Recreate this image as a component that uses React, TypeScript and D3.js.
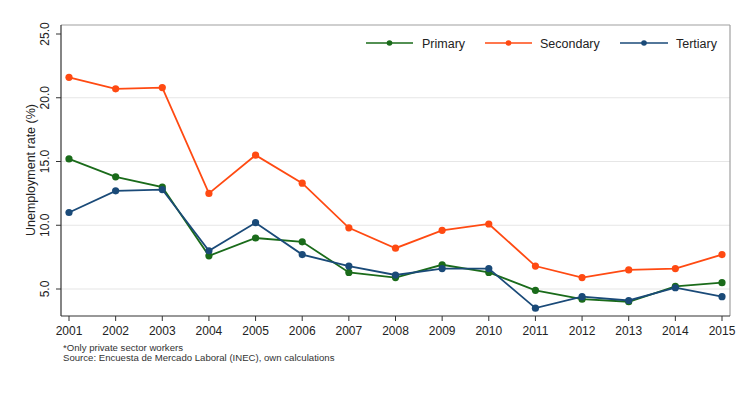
import * as d3 from 'd3';
import React from 'react';

const years = [2001, 2002, 2003, 2004, 2005, 2006, 2007, 2008, 2009, 2010, 2011, 2012, 2013, 2014, 2015];
const primary = [15.2, 13.8, 13.0, 7.6, 9.0, 8.7, 6.3, 5.9, 6.9, 6.3, 4.9, 4.2, 4.0, 5.2, 5.5];
const secondary = [21.6, 20.7, 20.8, 12.5, 15.5, 13.3, 9.8, 8.2, 9.6, 10.1, 6.8, 5.9, 6.5, 6.6, 7.7];
const tertiary = [11.0, 12.7, 12.8, 8.0, 10.2, 7.7, 6.8, 6.1, 6.6, 6.6, 3.5, 4.4, 4.1, 5.1, 4.4];
const yTicks = [5, 10, 15, 20, 25];

const series = [
  { name: 'Primary', values: primary, color: '#1a6b1a' },
  { name: 'Secondary', values: secondary, color: '#ff4a12' },
  { name: 'Tertiary', values: tertiary, color: '#1a4a78' },
];

const font = '"Liberation Sans", Arial, sans-serif';

const App: React.FC = () => {
  const width = 755;
  const height = 400;
  const plot = { left: 61, right: 730, top: 25, bottom: 316 };

  const x = d3.scaleLinear().domain([2001, 2015]).range([69, 722]);
  const y = d3.scaleLinear().domain([5, 25]).range([289, 34]);

  const line = d3.line<number>()
    .x((_, i) => x(years[i]))
    .y(d => y(d));

  const legendItems = [
    { x0: 366, x1: 413, tx: 422 },
    { x0: 485, x1: 532, tx: 540 },
    { x0: 620, x1: 668, tx: 676 },
  ];

  return (
    <svg width={width} height={height} style={{ position: 'absolute', left: 0, top: 0 }} fontFamily={font}>
      <rect width={width} height={height} fill="#fff" />
      {yTicks.map(t => (
        <g key={t}>
          {t < 25 && (
            <line x1={plot.left} x2={plot.right} y1={y(t)} y2={y(t)} stroke="#e6e6e6" strokeWidth={1.2} />
          )}
          <line x1={plot.left - 5} x2={plot.left} y1={y(t)} y2={y(t)} stroke="#333" />
          <text
            transform={`translate(49,${y(t)}) rotate(-90)`}
            textAnchor="middle"
            fontSize={12}
            fill="#222"
          >
            {d3.format('.1f')(t)}
          </text>
        </g>
      ))}
      <line x1={plot.left} x2={plot.right} y1={plot.top} y2={plot.top} stroke="#a0a0a0" strokeWidth={1.2} />
      <line x1={plot.right} x2={plot.right} y1={plot.top} y2={plot.bottom} stroke="#a0a0a0" strokeWidth={1.2} />
      <line x1={plot.left} x2={plot.left} y1={plot.top} y2={plot.bottom} stroke="#333" strokeWidth={1.2} />
      <line x1={plot.left} x2={plot.right} y1={plot.bottom} y2={plot.bottom} stroke="#333" strokeWidth={1.2} />
      {years.map(yr => (
        <g key={yr}>
          <line x1={x(yr)} x2={x(yr)} y1={plot.bottom} y2={plot.bottom + 5} stroke="#333" />
          <text x={x(yr)} y={335} textAnchor="middle" fontSize={12} fill="#222">{yr}</text>
        </g>
      ))}
      <text transform="translate(35,170) rotate(-90)" textAnchor="middle" fontSize={12.5} fill="#222">
        Unemployment rate (%)
      </text>
      {series.map(s => (
        <g key={s.name}>
          <path d={line(s.values) ?? ''} fill="none" stroke={s.color} strokeWidth={1.8} />
          {s.values.map((v, i) => (
            <circle key={i} cx={x(years[i])} cy={y(v)} r={3.6} fill={s.color} />
          ))}
        </g>
      ))}
      {series.map((s, i) => {
        const l = legendItems[i];
        return (
          <g key={s.name}>
            <line x1={l.x0} x2={l.x1} y1={43} y2={43} stroke={s.color} strokeWidth={1.5} />
            <circle cx={(l.x0 + l.x1) / 2} cy={43} r={2.8} fill={s.color} />
            <text x={l.tx} y={47.5} fontSize={12.5} fill="#222">{s.name}</text>
          </g>
        );
      })}
      <text x={63} y={351} fontSize={9.6} fill="#333">*Only private sector workers</text>
      <text x={63} y={361} fontSize={9.6} fill="#333">Source: Encuesta de Mercado Laboral (INEC), own calculations</text>
    </svg>
  );
};

export default App;
